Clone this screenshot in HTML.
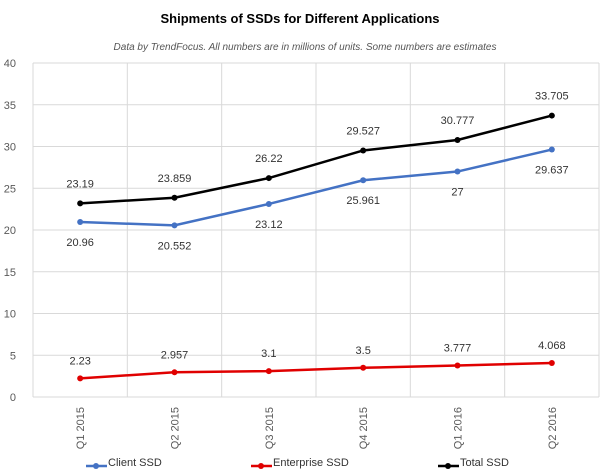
<!DOCTYPE html>
<html><head><meta charset="utf-8"><style>
body{margin:0;background:#fff;}
svg{display:block;font-family:"Liberation Sans",sans-serif;}
</style></head><body>
<svg id="chart" width="600" height="475">
<text x="300" y="23" text-anchor="middle" font-size="13" font-weight="bold" fill="#000">Shipments of SSDs for Different Applications</text>
<text x="305" y="50" text-anchor="middle" font-size="10" font-style="italic" fill="#555">Data by TrendFocus. All numbers are in millions of units. Some numbers are estimates</text>
<g id="grid"></g><g id="series"></g><g id="legend"></g>
</svg>
<script>
const categories=["Q1 2015","Q2 2015","Q3 2015","Q4 2015","Q1 2016","Q2 2016"];
const clientSSD=[20.96,20.552,23.12,25.961,27,29.637];
const enterpriseSSD=[2.23,2.957,3.1,3.5,3.777,4.068];
const totalSSD=[23.19,23.859,26.22,29.527,30.777,33.705];
const yTicks=[0,5,10,15,20,25,30,35,40];
const NS="http://www.w3.org/2000/svg";
const L=33,R=599,T=63,B=397,band=(R-L)/categories.length;
const xs=i=>L+band*(i+0.5);
const ys=v=>B-(v/40)*(B-T);
function mk(tag,attrs,parent,text){const e=document.createElementNS(NS,tag);for(const k in attrs)e.setAttribute(k,attrs[k]);if(text!==undefined)e.textContent=text;parent.appendChild(e);return e;}
const grid=document.getElementById('grid'),ser=document.getElementById('series'),leg=document.getElementById('legend');
yTicks.forEach(t=>{
 const l=mk('line',{x1:L,x2:R,y1:ys(t),y2:ys(t),stroke:'#d9d9d9','stroke-width':1},grid);
 
 
 const tx=mk('text',{x:16,y:ys(t)+4,'text-anchor':'end','font-size':11,fill:'#595959'},grid,t);
 
 
});
for(let i=0;i<=categories.length;i++){
 const l=mk('line',{x1:L+band*i,x2:L+band*i,y1:T,y2:B,stroke:'#d9d9d9','stroke-width':1},grid);
 
 
}
categories.forEach((c,i)=>{
 const tx=mk('text',{x:0,y:0,transform:`translate(${xs(i)+4},${B+10}) rotate(-90)`,'text-anchor':'end','font-size':11,fill:'#595959'},grid,c);
 
 
});
function drawSeries(vals,color,name,offsets){
 const pts=vals.map((v,i)=>xs(i)+','+ys(v)).join(' ');
 const pl=mk('polyline',{points:pts,fill:'none',stroke:color,'stroke-width':2.5},ser);
 
 
 vals.forEach((v,i)=>{
  const c=mk('circle',{cx:xs(i),cy:ys(v),r:3,fill:color},ser);
  
  
  const t=mk('text',{x:xs(i),y:ys(v)+offsets[i],'text-anchor':'middle','font-size':11,fill:'#333'},ser,v);
  
  
 });
}
drawSeries(enterpriseSSD,'#e00000','enterprise-ssd',[-14,-14,-14,-14,-14,-14]);
drawSeries(clientSSD,'#4472c4','client-ssd',[24,24,24,24,24,24]);
drawSeries(totalSSD,'#000','total-ssd',[-16,-16,-16,-16,-16,-16]);
const legItems=[["Client SSD","#4472c4",86],["Enterprise SSD","#e00000",251],["Total SSD","#000",438]];
legItems.forEach(([n,c,x])=>{
 const g=mk('g',{},leg);
 
 
 mk('line',{x1:x,x2:x+21,y1:466,y2:466,stroke:c,'stroke-width':2.5},g);
 mk('circle',{cx:x+10,cy:466,r:3,fill:c},g);
 mk('text',{x:x+22,y:466,'font-size':11,fill:'#333'},g,n);
});
</script>
</body></html>
